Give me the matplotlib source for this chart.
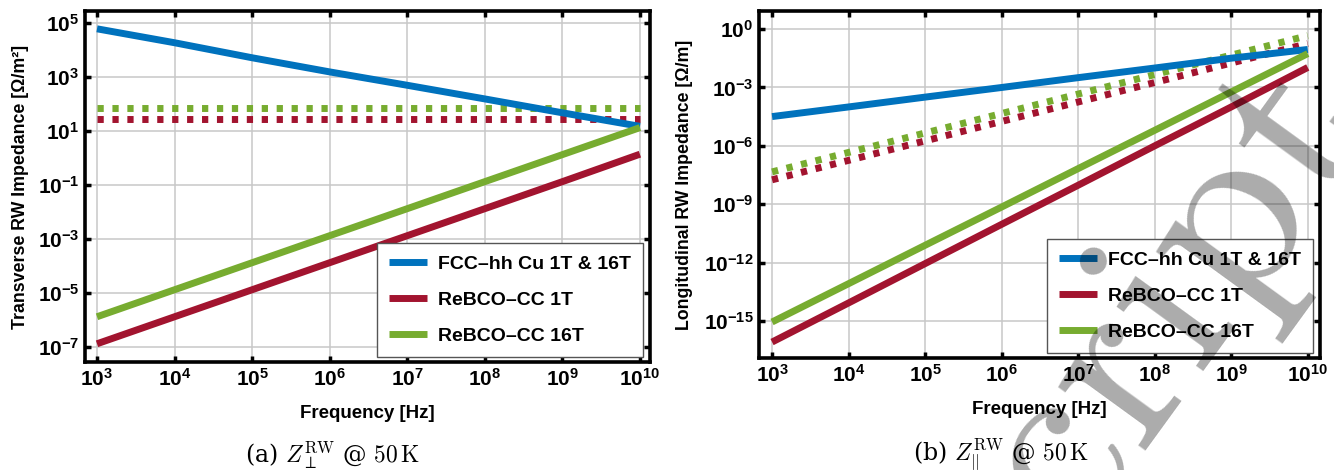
import numpy as np
import matplotlib
matplotlib.use("Agg")
import matplotlib.pyplot as plt
from matplotlib.ticker import FixedLocator, FuncFormatter, NullLocator

# ==========================================
# DATA (one value per decade)
# ==========================================
freq = [1e3, 1e4, 1e5, 1e6, 1e7, 1e8, 1e9, 1e10]

# (a) transverse [Ohm/m^2]
trans_cu = [5.9e4, 1.8e4, 5.0e3, 1.5e3, 4.8e2, 1.5e2, 4.6e1, 1.45e1]
trans_rebco_1t = [1.3e-7, 1.3e-6, 1.3e-5, 1.3e-4, 1.3e-3, 1.3e-2, 1.3e-1, 1.35]
trans_rebco_16t = [1.3e-6, 1.3e-5, 1.3e-4, 1.3e-3, 1.3e-2, 1.3e-1, 1.3, 1.3e1]
trans_rebco_1t_dot = [28, 28, 28, 28, 28, 28, 28, 28]
trans_rebco_16t_dot = [70, 70, 70, 70, 70, 70, 70, 70]

# (b) longitudinal [Ohm/m]
long_cu = [3.2e-5, 1.0e-4, 3.2e-4, 1.0e-3, 3.2e-3, 1.0e-2, 3.2e-2, 9.0e-2]
long_rebco_1t = [8.3e-17, 8.5e-15, 8.9e-13, 9.3e-11, 9.5e-9, 1.0e-6, 1.0e-4, 1.07e-2]
long_rebco_16t = [8.9e-16, 8.3e-14, 7.8e-12, 7.2e-10, 6.8e-8, 6.3e-6, 5.9e-4, 5.5e-2]
long_rebco_1t_dot = [1.8e-8, 1.8e-7, 1.8e-6, 1.8e-5, 1.8e-4, 1.8e-3, 1.8e-2, 1.8e-1]
long_rebco_16t_dot = [4.6e-8, 4.6e-7, 4.6e-6, 4.6e-5, 4.6e-4, 4.6e-3, 4.6e-2, 4.6e-1]

labels = ["FCC\u2013hh Cu 1T & 16T", "ReBCO\u2013CC 1T", "ReBCO\u2013CC 16T"]
BLUE, RED, GREEN = "#0072BD", "#A2142F", "#77AC30"

# ==========================================
# STYLE
# ==========================================
plt.rcParams['font.family'] = ['Liberation Sans', 'DejaVu Sans']
plt.rcParams['mathtext.fontset'] = 'custom'
plt.rcParams['mathtext.bf'] = 'Liberation Sans:bold'
plt.rcParams['mathtext.rm'] = 'Liberation Sans:bold'

fig = plt.figure(figsize=(13.34, 4.70), dpi=100)
ax1 = fig.add_axes([0.0637, 0.2298, 0.4235, 0.7468])
ax2 = fig.add_axes([0.569, 0.2383, 0.4205, 0.7383])

dotted = (0, (0.9, 1.25))


def pow_fmt(v, pos):
    e = int(round(np.log10(v)))
    return r'$\mathbf{10^{%d}}$' % e


def style_axis(ax, yexps, xlim, ylim, ylabel, ypad):
    ax.set_xscale('log')
    ax.set_yscale('log')
    ax.set_xlim(*xlim)
    ax.set_ylim(*ylim)
    ax.xaxis.set_major_locator(FixedLocator([10.0 ** k for k in range(3, 11)]))
    ax.yaxis.set_major_locator(FixedLocator([10.0 ** k for k in yexps]))
    ax.xaxis.set_minor_locator(NullLocator())
    ax.yaxis.set_minor_locator(NullLocator())
    ax.xaxis.set_major_formatter(FuncFormatter(pow_fmt))
    ax.yaxis.set_major_formatter(FuncFormatter(pow_fmt))
    ax.tick_params(which='major', direction='in', length=4, width=2.5,
                   top=True, right=True, labelsize=15, pad=4)
    ax.grid(True, color='#c8c8c8', lw=1.1)
    ax.set_axisbelow(True)
    for sp in ax.spines.values():
        sp.set_linewidth(2.6)
        sp.set_color('black')
    ax.set_xlabel("Frequency [Hz]", fontsize=13.5, fontweight='bold', labelpad=11)
    ax.set_ylabel(ylabel, fontsize=12.8, fontweight='bold', labelpad=ypad)


def draw(ax, cu, r1, r16, r1d, r16d):
    ax.plot(freq, r1d, color=RED, lw=5, ls=dotted)
    ax.plot(freq, r16d, color=GREEN, lw=5, ls=dotted)
    ax.plot(freq, cu, color=BLUE, lw=5, solid_capstyle='butt', label=labels[0])
    ax.plot(freq, r1, color=RED, lw=5, solid_capstyle='butt', label=labels[1])
    ax.plot(freq, r16, color=GREEN, lw=5, solid_capstyle='butt', label=labels[2])


draw(ax1, trans_cu, trans_rebco_1t, trans_rebco_16t, trans_rebco_1t_dot, trans_rebco_16t_dot)
draw(ax2, long_cu, long_rebco_1t, long_rebco_16t, long_rebco_1t_dot, long_rebco_16t_dot)

style_axis(ax1, range(-7, 6, 2), (10 ** 2.845, 10 ** 10.129), (10 ** -7.56, 10 ** 5.43),
           "Transverse RW Impedance [\u03a9/m\u00b2]", 6)
style_axis(ax2, range(-15, 1, 3), (10 ** 2.83, 10 ** 10.16), (10 ** -16.9, 10 ** 0.93),
           "Longitudinal RW Impedance [\u03a9/m]", 8)

for ax, anchor in [(ax1, (0.988, 0.014)), (ax2, (0.9875, 0.0144))]:
    leg = ax.legend(loc='lower right', bbox_to_anchor=anchor, fancybox=False,
                    framealpha=1, edgecolor='#555555', borderaxespad=0,
                    prop={'weight': 'bold', 'size': 14}, handlelength=1.95,
                    handletextpad=0.55, labelspacing=0.95, borderpad=0.62)
    leg.get_frame().set_linewidth(1.0)
    for h in leg.get_lines():
        h.set_linewidth(5)

# sub-captions
cap = dict(fontsize=17, ha='center', va='center', family='DejaVu Serif')
fig.text(0.249, 0.032, r'(a) $Z_{\perp}^{\mathrm{RW}}$ @ $50\,\mathrm{K}$',
         math_fontfamily='cm', **cap)
fig.text(0.750, 0.032, r'(b) $Z_{||}^{\mathrm{RW}}$ @ $50\,\mathrm{K}$',
         math_fontfamily='cm', **cap)

# watermark
fig.text(1372 / 1334, 1 - 140 / 470, r'$\mathrm{Manuscript}$', transform=fig.transFigure,
         fontsize=180, math_fontfamily='cm', color='black', alpha=0.33,
         rotation=54, rotation_mode='anchor', ha='right', va='baseline',
         zorder=10)

fig.savefig("out.png", dpi=100)
